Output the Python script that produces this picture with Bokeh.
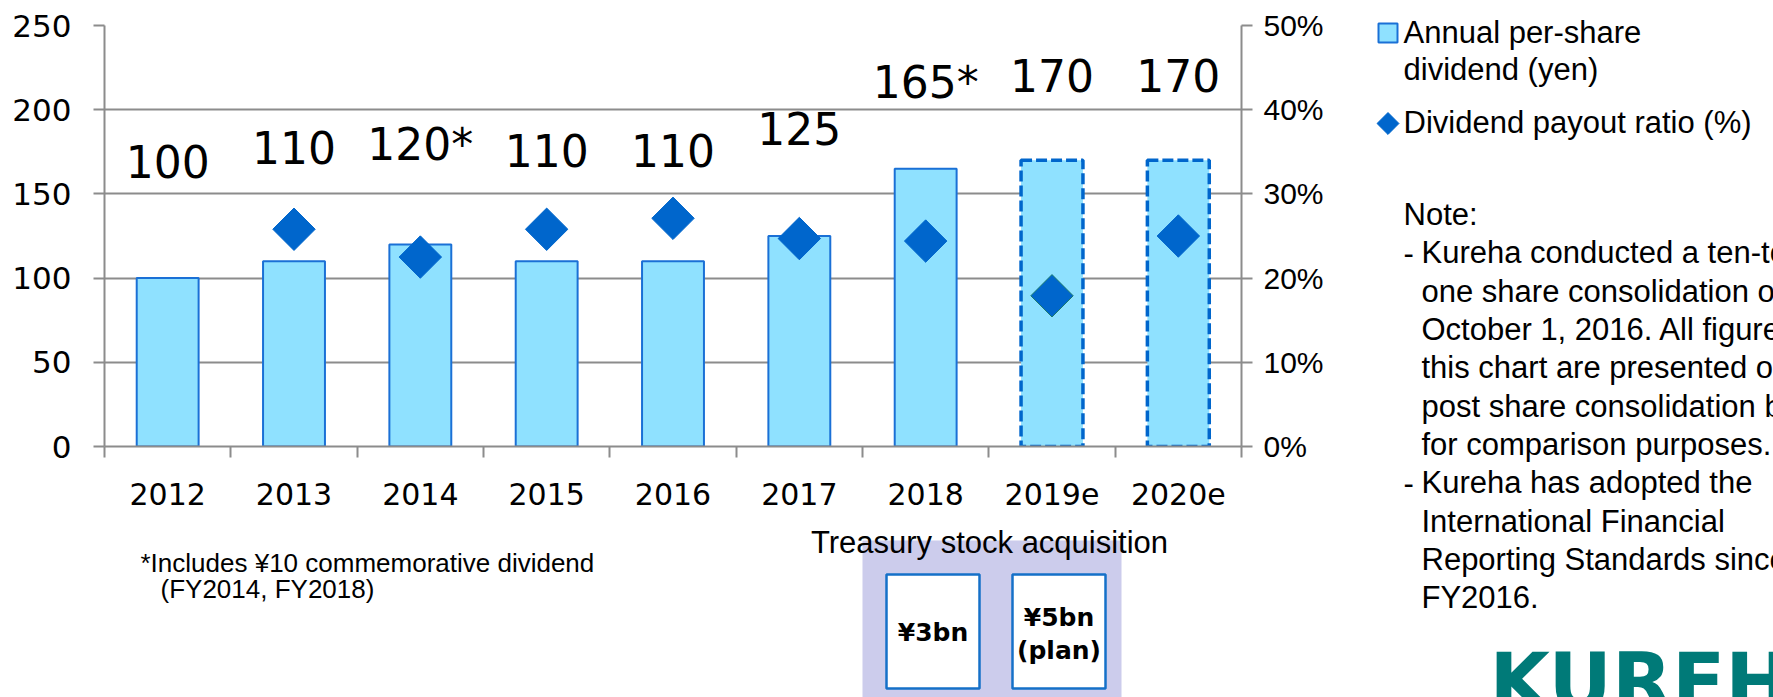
import math
from bokeh.plotting import figure
from bokeh.layouts import row, column
from bokeh.models import Range1d, LinearAxis, FixedTicker, Label, ColumnDataSource
from bokeh.core.properties import value
from bokeh.embed import file_html
from bokeh.resources import INLINE

# ---------------- data ----------------
years = ["2012", "2013", "2014", "2015", "2016", "2017", "2018", "2019e", "2020e"]
dividend_yen = [100, 110, 120, 110, 110, 125, 165, 170, 170]
dividend_labels = ["100", "110", "120*", "110", "110", "125", "165*", "170", "170"]
payout_pct = [float("nan"), 25.8, 22.5, 25.8, 27.1, 24.7, 24.4, 17.9, 25.0]
left_ticks = [0, 50, 100, 150, 200, 250]
right_ticks = [0, 10, 20, 30, 40, 50]
buyback_texts = [["¥3bn"], ["¥5bn", "(plan)"]]

# label placement (vertical centre of each value label, left-axis units)
label_y = [169.5, 177.3, 179.3, 175.8, 175.5, 188.8, 215.9, 220.6, 220.6]

legend_texts = ["Annual per-share", "dividend (yen)", "Dividend payout ratio (%)"]
note_lines = [
    "- Kureha conducted a ten-to-",
    "  one share consolidation on",
    "  October 1, 2016. All figures in",
    "  this chart are presented on",
    "  post share consolidation basis",
    "  for comparison purposes.",
    "- Kureha has adopted the",
    "  International Financial",
    "  Reporting Standards since",
    "  FY2016.",
]
footnote_lines = ["*Includes ¥10 commemorative dividend", "(FY2014, FY2018)"]

# ---------------- styling ----------------
BAR_FILL = "#8FE1FF"
BAR_LINE = "#1A70D6"
DIAMOND = "#0066CC"
GRID = "#8C8C8C"
TOTAL_W, TOTAL_H = 1773, 697
MAIN_W, MAIN_H = 1360, 520
FRAME_L, FRAME_R, FRAME_T, FRAME_B = 104, 1241, 25, 446

n = len(years)
centers = [i + 0.5 for i in range(n)]
is_est = [y.endswith("e") for y in years]

# ================= main chart =================
p = figure(width=MAIN_W, height=MAIN_H, output_backend="svg", toolbar_location=None,
           x_range=Range1d(0, n), y_range=Range1d(0, 250),
           min_border_left=FRAME_L, min_border_right=MAIN_W - FRAME_R,
           min_border_top=FRAME_T, min_border_bottom=MAIN_H - FRAME_B,
           frame_align=False)
p.outline_line_color = None

p.xgrid.visible = False
p.ygrid.grid_line_color = GRID
p.ygrid.grid_line_width = 2

xa = p.xaxis[0]
xa.ticker = FixedTicker(ticks=centers, minor_ticks=list(range(n + 1)))
xa.major_label_overrides = {c: y for c, y in zip(centers, years)}
xa.major_tick_line_color = None
xa.major_tick_out = 0
xa.major_tick_in = 0
xa.minor_tick_line_color = GRID
xa.minor_tick_line_width = 2
xa.minor_tick_out = 11
xa.minor_tick_in = 0
xa.axis_line_color = GRID
xa.axis_line_width = 2
xa.major_label_standoff = 25
xa.major_label_text_font = "DejaVu Sans"
xa.major_label_text_font_size = "30px"
xa.major_label_text_color = "black"

ya = p.yaxis[0]
ya.ticker = FixedTicker(ticks=left_ticks)
ya.major_tick_out = 11
ya.major_tick_in = 0
ya.major_tick_line_color = GRID
ya.major_tick_line_width = 2
ya.minor_tick_line_color = None
ya.axis_line_color = GRID
ya.axis_line_width = 2
ya.major_label_standoff = 22
ya.major_label_text_font = "DejaVu Sans"
ya.major_label_text_font_size = "31px"
ya.major_label_text_color = "black"

p.extra_y_ranges = {"pct": Range1d(0, 50)}
ra = LinearAxis(y_range_name="pct", ticker=FixedTicker(ticks=right_ticks),
                major_label_overrides={t: f"{t}%" for t in right_ticks})
ra.major_tick_out = 11
ra.major_tick_in = 0
ra.major_tick_line_color = GRID
ra.major_tick_line_width = 2
ra.minor_tick_line_color = None
ra.axis_line_color = GRID
ra.axis_line_width = 2
ra.major_label_standoff = 11
ra.major_label_text_font = "Liberation Sans"
ra.major_label_text_font_size = "30px"
ra.major_label_text_color = "black"
p.add_layout(ra, "right")

act = ColumnDataSource(dict(x=[c for c, e in zip(centers, is_est) if not e],
                            top=[v for v, e in zip(dividend_yen, is_est) if not e]))
est = ColumnDataSource(dict(x=[c for c, e in zip(centers, is_est) if e],
                            top=[v for v, e in zip(dividend_yen, is_est) if e]))
p.vbar(x="x", top="top", bottom=0, width=0.49, source=act,
       fill_color=BAR_FILL, line_color=BAR_LINE, line_width=2)
p.vbar(x="x", top="top", bottom=0, width=0.49, source=est,
       fill_color=BAR_FILL, line_color=DIAMOND, line_width=3.5, line_dash="11 4")

dline = ["#1C7A6E" if y == "2019e" else DIAMOND for y in years]
p.scatter(x=centers, y=payout_pct, y_range_name="pct", marker="square",
          angle=math.pi / 4, size=30, fill_color=DIAMOND, line_color=dline,
          line_width=1)

p.text(x=centers, y=label_y, text=dividend_labels, text_align="center",
       text_baseline="middle", text_font=value("DejaVu Sans"),
       text_font_size="44px", text_color="black")


def panel(x0, x1, y0, y1):
    """A bare figure whose data units are the page's pixels."""
    f = figure(width=x1 - x0, height=y1 - y0, output_backend="svg",
               toolbar_location=None, x_range=Range1d(x0, x1),
               y_range=Range1d(y1, y0), min_border=0, frame_align=False)
    f.axis.visible = False
    f.grid.visible = False
    f.outline_line_color = None
    return f


def lab(f, x, y, text, size="31px", font="Liberation Sans", align="left",
        style="normal", color="black"):
    f.add_layout(Label(x=x, y=y, text=text, text_font=font, text_font_size=size,
                       text_align=align, text_baseline="middle",
                       text_font_style=style, text_color=color))


# ================= bottom panel =================
b = panel(0, MAIN_W, MAIN_H, TOTAL_H)
b.quad(left=862, right=1121, top=540, bottom=TOTAL_H + 5,
       fill_color="#CCCCEC", line_color=None)
for txt, px, cy in zip(footnote_lines, [140, 160], [562.5, 588.5]):
    lab(b, px, cy, txt, size="26px")
lab(b, 989, 541.5, "Treasury stock acquisition", align="center")
for (l, rr), lines in zip([(886, 979), (1012, 1105)], buyback_texts):
    b.quad(left=l, right=rr, top=574, bottom=688, fill_color="white",
           line_color="#1570C8", line_width=2.5)
    mid = (l + rr) / 2
    ys = [632] if len(lines) == 1 else [617, 650]
    for t, yy in zip(lines, ys):
        lab(b, mid, yy, t, size="25px", font="DejaVu Sans", align="center",
            style="bold")

# ================= right panel =================
r = panel(MAIN_W, TOTAL_W, 0, TOTAL_H)
r.quad(left=1378, right=1397, top=23, bottom=42, fill_color=BAR_FILL,
       line_color=BAR_LINE, line_width=2)
r.scatter(x=[1387.5], y=[123], marker="square", angle=math.pi / 4, size=15.5,
          fill_color=DIAMOND, line_color=DIAMOND)
for txt, cy in zip(legend_texts, [31.5, 68.5, 121.5]):
    lab(r, 1403, cy, txt)
lab(r, 1403, 213.5, "Note:")
for i, line in enumerate(note_lines):
    cy = 252.3 + i * 38.33
    if line.startswith("- "):
        lab(r, 1403, cy, "-")
    lab(r, 1421, cy, line[2:])
lab(r, 1489, 681.5, "KUREHA", size="78px", font="DejaVu Sans", style="bold",
    color="#007A78")

layout = row(column(p, b), r)
open("out.html", "w").write(file_html(layout, INLINE))
